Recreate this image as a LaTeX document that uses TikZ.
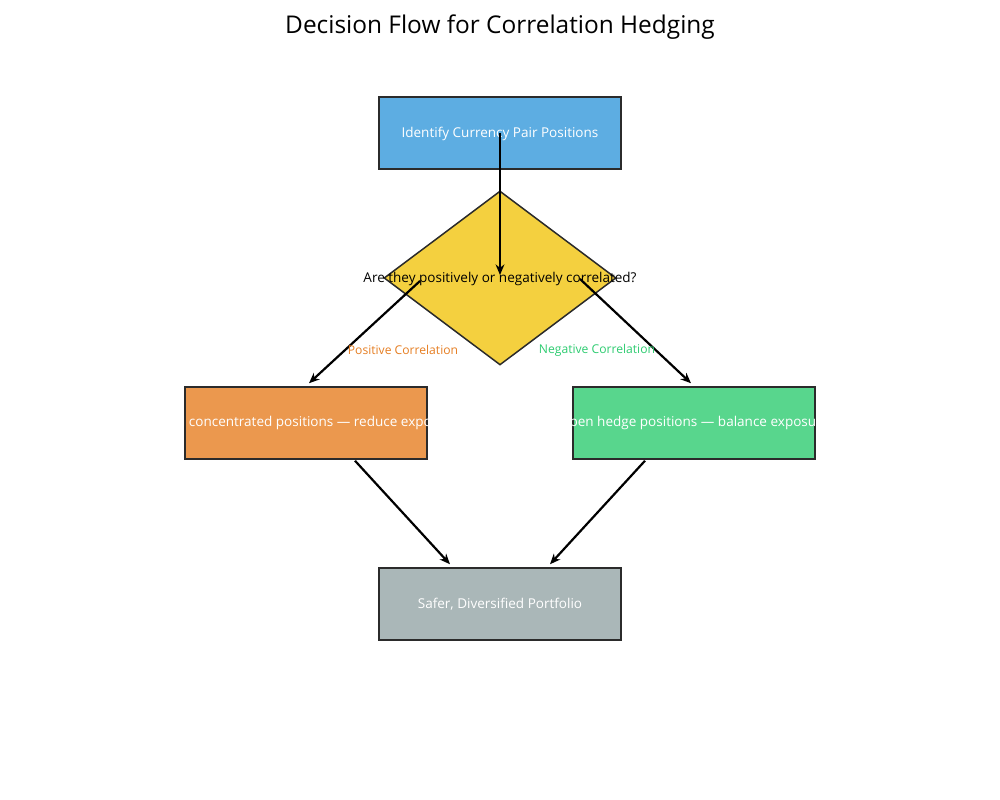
\documentclass[tikz,border=0pt]{standalone}
\usepackage{fontspec}
\setmainfont{Open Sans}
\usetikzlibrary{calc,shapes.geometric,arrows.meta}

\definecolor{boxblue}{HTML}{5DADE2}
\definecolor{boxyellow}{HTML}{F4D03F}
\definecolor{boxorange}{HTML}{EB984E}
\definecolor{boxgreen}{HTML}{58D68D}
\definecolor{boxgray}{HTML}{AAB7B8}
\definecolor{edgedark}{HTML}{2B2B2B}
\definecolor{txtorange}{HTML}{E67E22}
\definecolor{txtgreen}{HTML}{2ECC71}

\tikzset{
	flowbox/.style={draw=edgedark, line width=0.85pt, minimum width=4.84cm, minimum height=1.44cm, inner sep=0pt},
	boxtext/.style={text=white, font=\fontsize{7.7}{9}\selectfont, inner sep=0pt},
	flowarrow/.style={line width=1.25pt, -{Stealth[length=6pt,width=5pt]}},
	edgelabel/.style={font=\fontsize{6.9}{8}\selectfont, inner sep=0pt}
}

\begin{document}
\begin{tikzpicture}
			%%%%% START %%%%%
			
			\fill[white] (0, 0) rectangle (20, 16);
			\useasboundingbox (0, 0) rectangle (20, 16);
			
			\node[font=\fontsize{13.9}{16}\selectfont] (title) at (10, 15.45) {Decision Flow for Correlation Hedging};
			
			\node[flowbox, fill=boxblue] (ident) at (10, 13.34) {};
			\node[boxtext] (identtxt) at (10, 13.33) {Identify Currency Pair Positions};
			
			\node[draw=edgedark, line width=0.85pt, fill=boxyellow, diamond, inner sep=0pt, minimum width=4.64cm, minimum height=3.48cm] (decide) at (10, 10.44) {};
			\node[font=\fontsize{7.7}{9}\selectfont, inner sep=0pt] (decidetxt) at (10, 10.43) {Are they positively or negatively correlated?};
			
			\node[flowbox, fill=boxorange] (hedge) at (6.12, 7.54) {};
			\node[boxtext] (hedgetxt) at (6.03, 7.54) {Cancel concentrated positions — reduce exposure};
			
			\node[flowbox, fill=boxgreen] (open) at (13.88, 7.54) {};
			\node[boxtext] (opentxt) at (open.center) {Open hedge positions — balance exposure};
			
			\node[flowbox, fill=boxgray] (safe) at (10, 3.92) {};
			\node[boxtext] (safetxt) at (safe.center) {Safer, Diversified Portfolio};
			
			\draw[flowarrow] (ident.center) -- ($(decide.center)+(0, 0.06)$);
			
			\draw[flowarrow] ($(decide.center)+(-1.6, -0.06)$) -- ($(hedge.north)+(0.06, 0.06)$);
			\draw[flowarrow] ($(decide.center)+(1.6, -0.02)$) -- ($(open.north)+(-0.06, 0.06)$);
			
			\node[edgelabel, text=txtorange] (poslabel) at (8.06, 9.0) {Positive Correlation};
			\node[edgelabel, text=txtgreen] (neglabel) at (11.94, 9.0) {Negative Correlation};
			
			\draw[flowarrow] ($(hedge.south)+(0.98, -0.02)$) -- ($(safe.north)+(-1.0, 0.06)$);
			\draw[flowarrow] ($(open.south)+(-0.98, -0.02)$) -- ($(safe.north)+(1.0, 0.06)$);
			
			%%%%% END %%%%%
\end{tikzpicture}
\end{document}
